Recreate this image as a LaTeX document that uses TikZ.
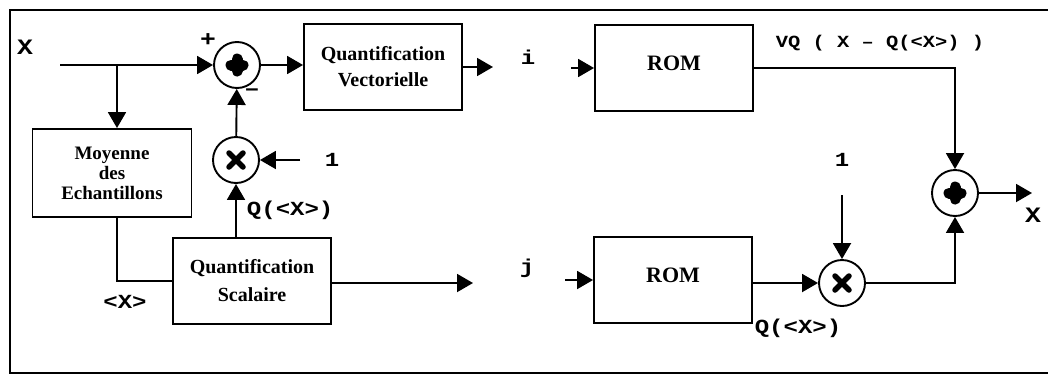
\documentclass[tikz,border=0pt]{standalone}
\usepackage{fontspec}
\setmainfont{Liberation Serif}
\newfontfamily\labfont[FakeStretch=1.2]{Liberation Mono}
\usetikzlibrary{arrows.meta,positioning,calc}

\begin{document}
\begin{tikzpicture}[x=1pt,y=-1pt,line width=1.9pt,
    bloc/.style={draw,minimum width=158pt,minimum height=86pt,align=center,
      font=\bfseries\fontsize{20}{26}\selectfont},
    somme/.style={draw,circle,minimum size=46pt,inner sep=0pt},
    fl/.style={-{Triangle[length=16pt,width=18pt]}},
    lab/.style={font=\labfont\bfseries\fontsize{20}{22}\selectfont,inner sep=0pt}]
        % cadre
        \useasboundingbox (0,0) rectangle (1048,378);
        \draw[line width=2.4pt] (1048,10) -- (10,10) -- (10,373) -- (1048,373);

        % blocs
        \node[bloc,minimum width=159pt,minimum height=88pt,
              font=\bfseries\fontsize{19}{20}\selectfont] (moy) at (112,173) {Moyenne\\des\\Echantillons};
        \node[bloc,font=\bfseries\fontsize{20}{28}\selectfont] (qs) at (252,281) {Quantification\\Scalaire};
        \node[bloc] (qv) at (383,67) {Quantification\\Vectorielle};
        \node[bloc,font=\bfseries\fontsize{22}{24}\selectfont,text depth=10pt] (rom1) at (674,68) {ROM};
        \node[bloc,font=\bfseries\fontsize{22}{24}\selectfont,text depth=10pt] (rom2) at (673,280) {ROM};

        % sommateurs et multiplieurs
        \node[somme] (add1) at (237,65) {};
        \node[somme] (mul1) at (236,160) {};
        \node[somme] (mul2) at (842,283) {};
        \node[somme] (add3) at (955,193) {};
        \foreach \n in {add1,add3}
          \draw[line width=11pt,line cap=round] ($(\n)+(-6,0)$) -- ($(\n)+(6,0)$)
                                                ($(\n)+(0,-6)$) -- ($(\n)+(0,6)$);
        \foreach \n in {mul1,mul2}
          \draw[line width=5.5pt,line cap=round] ($(\n)+(-7,-7)$) -- ($(\n)+(7,7)$)
                                                 ($(\n)+(-7,7)$) -- ($(\n)+(7,-7)$);

        % extremites libres
        \coordinate (xin) at (60,65);
        \coordinate (br) at (117,65);
        \coordinate (ia) at (493,67);
        \coordinate (ib) at (571,68);
        \coordinate (ja) at (473,283);
        \coordinate (jb) at (565,280);
        \coordinate (un1) at (300,160);
        \coordinate (un2) at (842,195);
        \coordinate (xout) at (1032,193);

        % liaisons
        \draw[fl] (xin) -- (add1);
        \draw[fl] (br) -- (br |- moy.north);
        \draw (br |- moy.south) |- (qs.west);
        \draw[fl] (qs.north -| mul1) -- (mul1);
        \draw[fl] (un1) -- (mul1);
        \draw[fl] (mul1) -- (add1);
        \draw[fl] (add1) -- (add1 -| qv.west);
        \draw[fl] (qv.east |- ia) -- (ia);
        \draw[fl] (ib) -- (ib -| rom1.west);
        \draw[fl] (rom1) -| (add3);
        \draw[fl] (add3) -- (xout);
        \draw[fl] (qs.east |- ja) -- (ja);
        \draw[fl] (jb) -- (jb -| rom2.west);
        \draw[fl] (rom2.east |- mul2) -- (mul2);
        \draw[fl] (un2) -- (mul2);
        \draw[fl] (mul2) -| (add3);

        % etiquettes
        \node[lab,font=\labfont\bfseries\fontsize{22}{24}\selectfont] (lx) at (25,47) {X};
        \node[lab,font=\labfont\bfseries\fontsize{22}{24}\selectfont] (lplus) at (208,40) {+};
        \node[lab,font=\labfont\bfseries\fontsize{22}{24}\selectfont] (lmoins) at (252,92) {–};
        \node[lab,anchor=west] (lq1) at (246,210) {Q(<X>)};
        \node[lab] (lmx) at (125,302) {<X>};
        \node[lab] (lun1) at (332,160) {1};
        \node[lab] (li) at (528,57) {i};
        \node[lab] (lj) at (527,268) {j};
        \node[lab,font=\labfont\bfseries\fontsize{17}{19}\selectfont] (lvq) at (880,43) {VQ ( X – Q(<X>) )};
        \node[lab] (lun2) at (842,160) {1};
        \node[lab] (lq2) at (798,328) {Q(<X>)};
        \node[lab,font=\labfont\bfseries\fontsize{22}{24}\selectfont] (lxo) at (1033,215) {X};
\end{tikzpicture}
\end{document}
